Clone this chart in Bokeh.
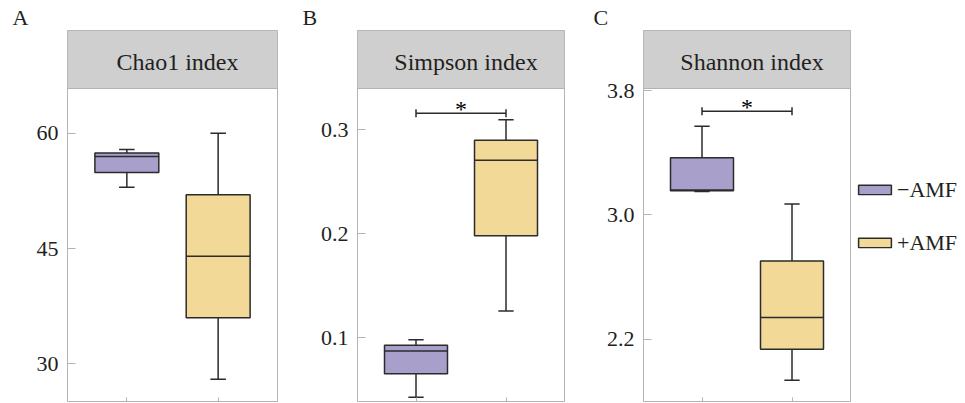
from bokeh.plotting import figure
from bokeh.models import Range1d, FixedTicker, Label, Legend, LegendItem, NumeralTickFormatter
from bokeh.layouts import row, column
from bokeh.embed import file_html
from bokeh.resources import INLINE
from bokeh.core.properties import value

# ---------------- data ----------------
groups = ["\u2212AMF", "+AMF"]
positions = [1, 2]
colors = ["#a99fcb", "#f2d997"]

chao1_low = [53.0, 28.0]
chao1_q1 = [54.9, 36.0]
chao1_median = [57.0, 44.0]
chao1_q3 = [57.45, 52.0]
chao1_high = [57.9, 60.0]
chao1_ticks = [30, 45, 60]

simpson_low = [0.0426, 0.1255]
simpson_q1 = [0.0652, 0.198]
simpson_median = [0.087, 0.2707]
simpson_q3 = [0.0926, 0.290]
simpson_high = [0.098, 0.3097]
simpson_ticks = [0.1, 0.2, 0.3]
simpson_sig_y = 0.316

shannon_low = [3.15, 1.937]
shannon_q1 = [3.155, 2.136]
shannon_median = [3.16, 2.341]
shannon_q3 = [3.367, 2.703]
shannon_high = [3.57, 3.07]
shannon_ticks = [2.2, 3.0, 3.8]
shannon_sig_y = 3.666

panel_letters = ["A", "B", "C"]
panel_titles = ["Chao1 index", "Simpson index", "Shannon index"]

# ---------------- layout constants ----------------
FONT = "Liberation Serif"
TXT = "#231f20"
GRAY = "#b3b3b3"
STRIP_FILL = "#cfcfcf"
EDGE = "#2b2b2b"
W = 965
LETTER_H = 30
FRAME_H = 371
STRIP_H = 58
BOTTOM = 2
X0, X1 = 0.35, 2.65
BOX_W = 0.7
CAP_W = 0.17

panels = [
    dict(low=chao1_low, q1=chao1_q1, med=chao1_median, q3=chao1_q3, high=chao1_high,
         ticks=chao1_ticks, ymin=25.1, ymax=65.84, fmt="0", fw=210, bl=67, br=20, sig=None),
    dict(low=simpson_low, q1=simpson_q1, med=simpson_median, q3=simpson_q3, high=simpson_high,
         ticks=simpson_ticks, ymin=0.0385, ymax=0.3397, fmt="0.0", fw=207, bl=60, br=20,
         sig=simpson_sig_y),
    dict(low=shannon_low, q1=shannon_q1, med=shannon_median, q3=shannon_q3, high=shannon_high,
         ticks=shannon_ticks, ymin=1.80, ymax=3.813, fmt="0.0", fw=207, bl=59, br=115,
         sig=shannon_sig_y),
]
letter_x = [12, 302, 593]

# ---------------- panel letters row ----------------
lf = figure(frame_width=W, frame_height=LETTER_H, x_range=Range1d(0, W), y_range=Range1d(0, LETTER_H),
            output_backend="svg", toolbar_location=None,
            min_border_left=0, min_border_right=0, min_border_top=0, min_border_bottom=0)
lf.axis.visible = False
lf.grid.visible = False
lf.outline_line_color = None
lf.background_fill_color = "white"
lf.border_fill_color = "white"
for lx, lt in zip(letter_x, panel_letters):
    lf.add_layout(Label(x=lx, y=LETTER_H - 17, text=lt, text_align="left", text_baseline="middle",
                        text_font=FONT, text_font_size="22px", text_color=TXT))

figs = []
last_box = None
for pn, title in zip(panels, panel_titles):
    data_px = FRAME_H - STRIP_H
    upp = (pn["ymax"] - pn["ymin"]) / data_px  # data units per pixel
    y_end = pn["ymax"] + STRIP_H * upp

    p = figure(frame_width=pn["fw"], frame_height=FRAME_H,
               x_range=Range1d(X0, X1), y_range=Range1d(pn["ymin"], y_end),
               output_backend="svg", toolbar_location=None,
               min_border_left=pn["bl"], min_border_right=pn["br"],
               min_border_top=0, min_border_bottom=BOTTOM)
    p.xgrid.visible = False
    p.ygrid.visible = False
    p.outline_line_color = GRAY
    p.outline_line_width = 1
    p.background_fill_color = "white"
    p.border_fill_color = "white"

    ya = p.yaxis[0]
    ya.ticker = FixedTicker(ticks=pn["ticks"])
    ya.formatter = NumeralTickFormatter(format=pn["fmt"])
    ya.axis_line_color = None
    ya.major_tick_in = 8
    ya.major_tick_out = 0
    ya.minor_tick_in = 0
    ya.minor_tick_out = 0
    ya.major_tick_line_color = GRAY
    ya.major_label_text_font = FONT
    ya.major_label_text_font_size = "22px"
    ya.major_label_text_color = TXT
    ya.major_label_standoff = 9

    xa = p.xaxis[0]
    xa.ticker = FixedTicker(ticks=positions)
    xa.major_label_overrides = {x: "" for x in positions}
    xa.axis_line_color = None
    xa.major_tick_in = 4
    xa.major_tick_out = 0
    xa.minor_tick_in = 0
    xa.minor_tick_out = 0
    xa.major_tick_line_color = GRAY
    xa.major_label_standoff = 0

    # strip with title
    p.quad(left=[X0], right=[X1], bottom=[pn["ymax"]], top=[y_end],
           fill_color=STRIP_FILL, line_color=GRAY, line_width=1)
    p.add_layout(Label(x=sum(positions) / 2, y=FRAME_H - STRIP_H / 2 - 2, x_units="data", y_units="screen",
                       text=title, text_align="center", text_baseline="middle",
                       x_offset=5, text_font=FONT, text_font_size="24px", text_color=TXT))

    # whiskers
    p.segment(x0=positions, x1=positions, y0=pn["q3"], y1=pn["high"], line_color=EDGE, line_width=1.5)
    p.segment(x0=positions, x1=positions, y0=pn["q1"], y1=pn["low"], line_color=EDGE, line_width=1.5)
    cl = [x - CAP_W / 2 for x in positions]
    cr = [x + CAP_W / 2 for x in positions]
    p.segment(x0=cl, x1=cr, y0=pn["high"], y1=pn["high"], line_color=EDGE, line_width=1.5)
    p.segment(x0=cl, x1=cr, y0=pn["low"], y1=pn["low"], line_color=EDGE, line_width=1.5)

    # boxes + medians
    box = p.vbar(x=positions, width=BOX_W, bottom=pn["q1"], top=pn["q3"],
                 fill_color=colors, line_color=EDGE, line_width=1.5)
    bl_ = [x - BOX_W / 2 for x in positions]
    br_ = [x + BOX_W / 2 for x in positions]
    p.segment(x0=bl_, x1=br_, y0=pn["med"], y1=pn["med"], line_color=EDGE, line_width=1.5)
    last_box = box

    # significance bracket
    if pn["sig"] is not None:
        s = pn["sig"]
        dy = 4 * upp
        p.segment(x0=[positions[0]], x1=[positions[1]], y0=[s], y1=[s], line_color=EDGE, line_width=1.5)
        p.segment(x0=positions, x1=positions, y0=[s - dy] * 2, y1=[s + dy] * 2,
                  line_color=EDGE, line_width=1.5)
        p.text(x=[sum(positions) / 2], y=[s], text=["*"], text_align="center",
               text_baseline="middle", y_offset=-4,
               text_font=value(FONT), text_font_size=value("24px"), text_color="black")
    figs.append(p)

# legend in the right panel of the last figure
pc = figs[-1]
legend = Legend(items=[LegendItem(label=groups[i], renderers=[last_box], index=i) for i in range(2)],
                location="center_left", orientation="vertical",
                glyph_width=41, glyph_height=12, label_height=26, spacing=27,
                padding=4, margin=0, label_standoff=2,
                border_line_alpha=0, background_fill_alpha=0,
                label_text_font=FONT, label_text_font_size="22px", label_text_color=TXT)
pc.add_layout(legend, "right")

layout = column(lf, row(*figs, spacing=0), spacing=0)
open("out.html", "w").write(file_html(layout, INLINE))
